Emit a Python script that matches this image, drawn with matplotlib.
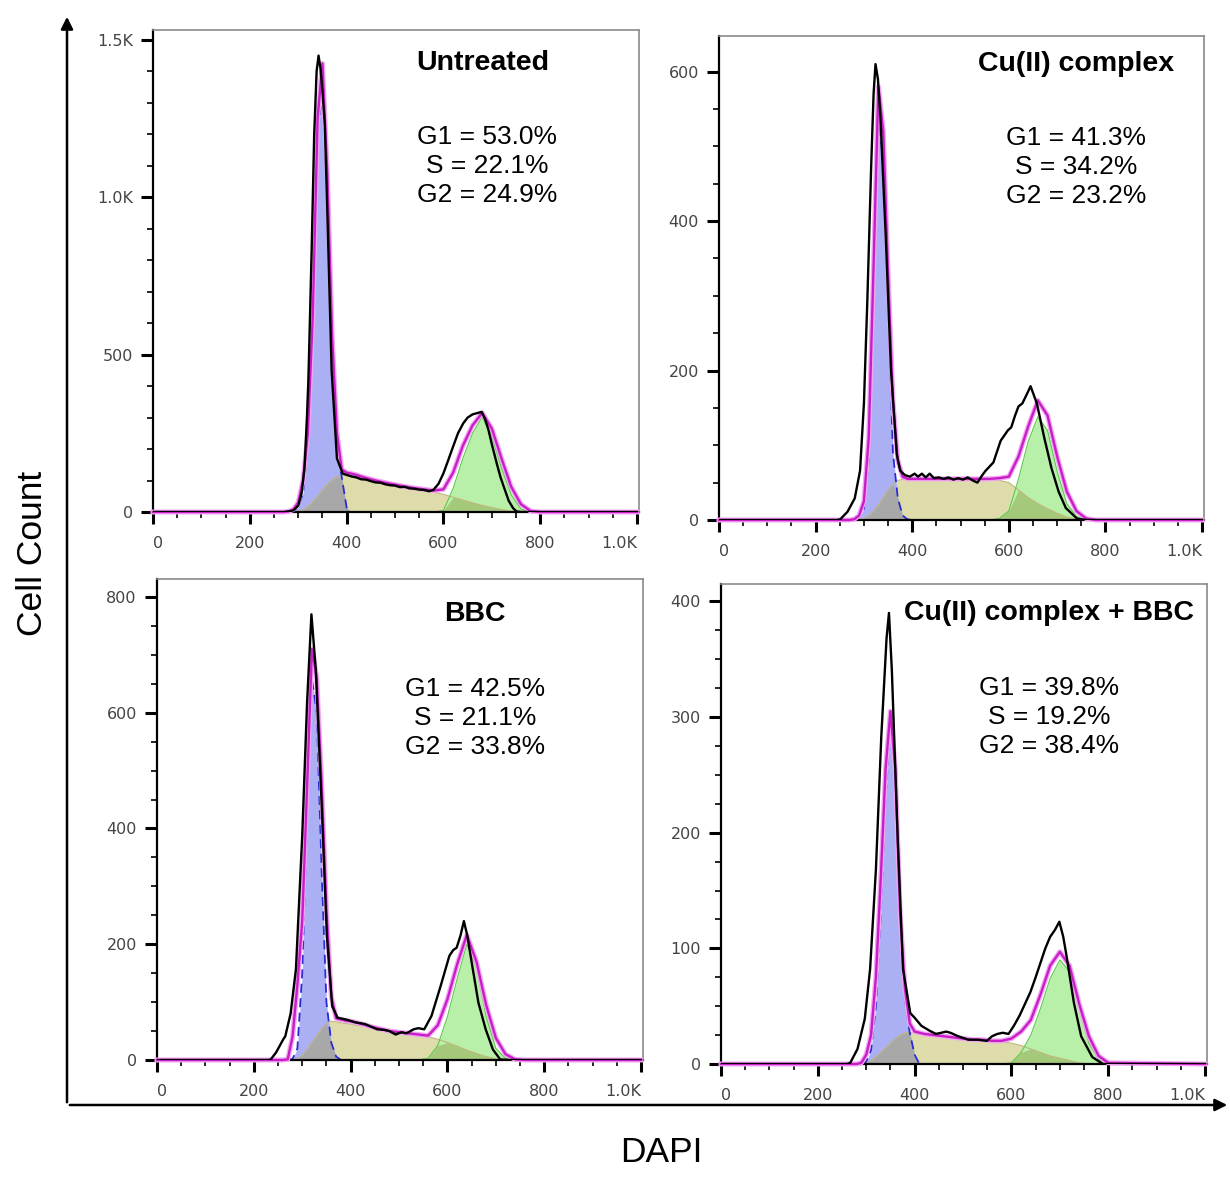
import numpy as np
import matplotlib.pyplot as plt
from matplotlib.ticker import MultipleLocator, FixedLocator
from matplotlib.patches import FancyArrowPatch

DAPI_GRID = [0, 240, 260, 270, 280, 290, 300, 310, 320, 330, 340, 350, 360, 370, 380,
             390, 400, 410, 420, 440, 460, 480, 500, 520, 540, 560, 580, 600, 620, 640,
             660, 680, 700, 720, 740, 760, 780, 800, 1000]

PANEL_TITLES = ["Untreated", "Cu(II) complex", "BBC", "Cu(II) complex + BBC"]
PANEL_STATS = [
    ["G1 = 53.0%", "S = 22.1%", "G2 = 24.9%"],
    ["G1 = 41.3%", "S = 34.2%", "G2 = 23.2%"],
    ["G1 = 42.5%", "S = 21.1%", "G2 = 33.8%"],
    ["G1 = 39.8%", "S = 19.2%", "G2 = 38.4%"],
]

# ---- Untreated ----
untreated_raw_x = [0, 270, 280, 290, 300, 307, 313, 318, 321, 324, 328, 333, 338, 342, 346, 350, 355,
                   360, 369, 380, 392, 400, 410, 420, 430, 440, 450, 460, 470, 480, 490, 500, 510,
                   520, 530, 540, 550, 560, 570, 579, 590, 600, 610, 620, 630, 641, 650, 660, 669,
                   679, 686, 693, 700, 710, 718, 727, 735, 744, 751, 760, 1000]
untreated_raw_y = [0, 0, 2, 5, 20, 60, 140, 300, 420, 600, 850, 1200, 1400, 1450, 1410, 1340, 1230,
                   960, 450, 170, 122, 118, 113, 110, 104, 103, 98, 94, 93, 88, 85, 84, 79,
                   80, 75, 74, 71, 70, 66, 70, 90, 123, 165, 208, 250, 282, 300, 310, 314,
                   318, 295, 261, 215, 155, 110, 70, 35, 12, 2, 0, 0]
untreated_fit = [0, 0, 0, 0, 2, 8, 30, 100, 250, 620, 1250, 1425, 1080, 560, 250, 135, 125, 122, 118,
                 108, 100, 93, 87, 81, 76, 72, 68, 72, 125, 210, 275, 315, 265, 170, 80, 25, 3, 0, 0]
untreated_g1 = [0, 0, 0, 0, 0, 3, 15, 60, 210, 560, 1180, 1360, 1000, 480, 200, 110, 14, 0, 0,
                0, 0, 0, 0, 0, 0, 0, 0, 0, 0, 0, 0, 0, 0, 0, 0, 0, 0, 0, 0]
untreated_s = [0, 0, 0, 0, 0, 0, 2, 8, 18, 32, 50, 70, 88, 102, 112, 118, 116, 113, 110,
               104, 98, 92, 85, 79, 73, 68, 63, 56, 47, 38, 29, 21, 14, 8, 3, 0, 0, 0, 0]
untreated_g2 = [0, 0, 0, 0, 0, 0, 0, 0, 0, 0, 0, 0, 0, 0, 0, 0, 0, 0, 0,
                0, 0, 0, 0, 0, 0, 0, 0, 5, 75, 170, 250, 302, 240, 140, 55, 10, 0, 0, 0]

# ---- Cu(II) complex ----
cu_raw_x = [0, 245, 251, 266, 281, 292, 300, 307, 315, 320, 324, 329, 334, 345, 356, 368, 375,
            385, 395, 405, 412, 420, 428, 436, 445, 455, 465, 475, 485, 495, 505, 515, 525, 535,
            545, 552, 568, 583, 598, 605, 613, 620, 628, 637, 645, 658, 673, 688, 703, 718, 741,
            760, 1000]
cu_raw_y = [0, 0, 1, 11, 29, 66, 156, 292, 473, 570, 610, 590, 541, 382, 201, 88, 66,
            60, 58, 62, 58, 62, 57, 62, 56, 57, 55, 57, 54, 56, 54, 57, 53, 50,
            60, 66, 77, 106, 120, 124, 140, 152, 156, 168, 179, 156, 111, 70, 38, 16, 2,
            0, 0]
cu_fit = [0, 0, 0, 0, 1, 6, 25, 110, 340, 580, 520, 330, 160, 80, 58, 55, 55, 55, 55,
          55, 55, 55, 55, 55, 55, 55, 56, 58, 85, 125, 160, 140, 85, 38, 12, 2, 0, 0, 0]
cu_g1 = [0, 0, 0, 0, 0, 3, 15, 80, 300, 540, 480, 300, 90, 30, 6, 1, 0, 0, 0,
         0, 0, 0, 0, 0, 0, 0, 0, 0, 0, 0, 0, 0, 0, 0, 0, 0, 0, 0, 0]
cu_s = [0, 0, 0, 0, 0, 0, 2, 6, 12, 20, 30, 40, 48, 53, 54, 54, 54, 54, 54,
        54, 54, 54, 54, 54, 54, 54, 53, 50, 40, 30, 22, 15, 9, 4, 1, 0, 0, 0, 0]
cu_g2 = [0, 0, 0, 0, 0, 0, 0, 0, 0, 0, 0, 0, 0, 0, 0, 0, 0, 0, 0,
         0, 0, 0, 0, 0, 0, 0, 2, 12, 55, 105, 138, 120, 65, 22, 5, 0, 0, 0, 0]

# ---- BBC ----
bbc_raw_x = [0, 230, 235, 246, 261, 265, 276, 287, 300, 310, 319, 328, 340, 351, 362, 373, 390,
             410, 430, 455, 470, 480, 493, 505, 515, 530, 540, 552, 567, 586, 604, 612, 619,
             627, 634, 641, 649, 664, 679, 694, 709, 730, 1000]
bbc_raw_y = [0, 0, 1, 13, 36, 41, 80, 157, 387, 617, 770, 675, 445, 214, 93, 73, 70,
             65, 62, 53, 52, 50, 44, 48, 46, 53, 55, 53, 76, 128, 180, 190, 194,
             215, 240, 215, 174, 99, 53, 18, 1, 0, 0]
bbc_fit = [0, 0, 0, 1, 40, 130, 240, 470, 710, 660, 480, 260, 110, 72, 70, 68, 67, 65, 63,
           58, 54, 50, 48, 46, 44, 42, 60, 105, 165, 216, 170, 95, 38, 10, 1, 0, 0, 0, 0]
bbc_g1 = [0, 0, 0, 0, 2, 20, 150, 420, 660, 600, 330, 100, 30, 6, 0, 0, 0, 0, 0,
          0, 0, 0, 0, 0, 0, 0, 0, 0, 0, 0, 0, 0, 0, 0, 0, 0, 0, 0, 0]
bbc_s = [0, 0, 0, 0, 0, 2, 8, 18, 30, 42, 54, 63, 67, 66, 64, 63, 62, 60, 59,
         56, 53, 50, 48, 46, 43, 40, 36, 30, 24, 17, 11, 6, 2, 0, 0, 0, 0, 0, 0]
bbc_g2 = [0, 0, 0, 0, 0, 0, 0, 0, 0, 0, 0, 0, 0, 0, 0, 0, 0, 0, 0,
          0, 0, 0, 0, 0, 0, 3, 25, 75, 140, 200, 160, 75, 20, 3, 0, 0, 0, 0, 0]

# ---- Cu(II) complex + BBC ----
combo_raw_x = [0, 260, 267, 282, 297, 308, 320, 331, 342, 347, 353, 365, 376, 391, 400, 414, 430,
               444, 455, 465, 474, 490, 511, 530, 549, 560, 571, 582, 594, 605, 617, 628, 639,
               650, 662, 670, 680, 690, 699, 707, 714, 729, 744, 767, 789, 1000]
combo_raw_y = [0, 0, 1, 13, 39, 82, 168, 282, 368, 390, 340, 196, 82, 44, 40, 33, 29,
               26, 27, 28, 27, 24, 21, 21, 20, 24, 26, 27, 26, 33, 42, 52, 62,
               75, 90, 100, 110, 116, 123, 110, 93, 53, 24, 6, 0, 0]
combo_fit = [0, 0, 0, 0, 0, 1, 8, 25, 75, 160, 255, 305, 255, 130, 65, 35, 28, 27, 26,
             25, 24, 23, 22, 21, 21, 20, 20, 22, 28, 38, 60, 85, 97, 85, 52, 24, 7, 1, 0]
combo_g1 = [0, 0, 0, 0, 0, 0, 2, 12, 50, 130, 230, 295, 240, 120, 55, 27, 8, 0, 0,
            0, 0, 0, 0, 0, 0, 0, 0, 0, 0, 0, 0, 0, 0, 0, 0, 0, 0, 0, 0]
combo_s = [0, 0, 0, 0, 0, 0, 1, 3, 6, 10, 14, 18, 22, 25, 27, 27, 27, 26, 26,
           25, 24, 23, 22, 21, 21, 20, 19, 18, 16, 13, 10, 7, 5, 3, 1, 0, 0, 0, 0]
combo_g2 = [0, 0, 0, 0, 0, 0, 0, 0, 0, 0, 0, 0, 0, 0, 0, 0, 0, 0, 0,
            0, 0, 0, 0, 0, 0, 0, 0, 1, 10, 25, 48, 74, 90, 80, 48, 18, 4, 0, 0]

# y axis ticks per panel
Y_MAJOR = [[0, 500, 1000, 1500], [0, 200, 400, 600], [0, 200, 400, 600, 800], [0, 100, 200, 300, 400]]
Y_LABELS = [["0", "500", "1.0K", "1.5K"], ["0", "200", "400", "600"],
            ["0", "200", "400", "600", "800"], ["0", "100", "200", "300", "400"]]
Y_MINOR = [100, 50, 50, 25]
Y_TOP = [1533, 648, 831, 415]
X_MAJOR = [0, 200, 400, 600, 800, 1000]
X_LABELS = ["0", "200", "400", "600", "800", "1.0K"]

RAW = [(untreated_raw_x, untreated_raw_y), (cu_raw_x, cu_raw_y),
       (bbc_raw_x, bbc_raw_y), (combo_raw_x, combo_raw_y)]
FITS = [untreated_fit, cu_fit, bbc_fit, combo_fit]
G1S = [untreated_g1, cu_g1, bbc_g1, combo_g1]
SS = [untreated_s, cu_s, bbc_s, combo_s]
G2S = [untreated_g2, cu_g2, bbc_g2, combo_g2]

# layout (pixels: left, top, right, bottom) and text placement in axes fractions
W, H = 1230, 1194
BOXES = [(153, 29.5, 639, 512), (719, 35.7, 1204, 520), (157, 579, 643, 1060), (721, 584, 1207, 1064)]
TITLE_POS = [(0.679, 0.931), (0.736, 0.941), (0.654, 0.927), (0.675, 0.940)]
STATS_POS = [(0.687, 0.717), (0.736, 0.729), (0.654, 0.711), (0.675, 0.723)]

SANS = ["Liberation Sans", "DejaVu Sans"]


def visible(y):
    y = np.asarray(y, dtype=float)
    nz = y > 0
    keep = nz | np.roll(nz, 1) | np.roll(nz, -1)
    return np.ma.masked_where(~keep, y)


fig = plt.figure(figsize=(W / 100, H / 100), dpi=100)
x = np.array(DAPI_GRID, dtype=float)

for i in range(4):
    l, t, r, b = BOXES[i]
    ax = fig.add_axes([l / W, 1 - b / H, (r - l) / W, (b - t) / H])
    g1 = np.array(G1S[i], float)
    s = np.array(SS[i], float)
    g2 = np.array(G2S[i], float)

    ax.fill_between(x, 0, s, color="#dfdcab", lw=0, zorder=1)
    ax.fill_between(x, 0, g1, color="#aab0f3", lw=0, zorder=1.1)
    ax.fill_between(x, 0, g2, color="#b9f0a9", lw=0, zorder=1.1)
    ax.fill_between(x, 0, np.minimum(g1, s), color="#a8a8a8", lw=0, zorder=1.2)
    ax.fill_between(x, 0, np.minimum(s, g2), color="#a5c97b", lw=0, zorder=1.2)

    ax.plot(x, visible(s), color="#bdb57a", lw=0.8, zorder=2)
    ax.plot(x, visible(g2), color="#5cc94c", lw=0.8, zorder=2)
    ax.plot(x, visible(g1), color="#2b2bd6", lw=1.3, ls=(0, (5, 3)), zorder=2.1)

    ax.plot(x, FITS[i], color="#f2a6f2", lw=3.6, zorder=3, clip_on=False, solid_joinstyle="round")
    ax.plot(x, FITS[i], color="#c81ec8", lw=1.7, zorder=3.1, clip_on=False, solid_joinstyle="round")
    rx, ry = RAW[i]
    ax.plot(rx, ry, color="black", lw=1.7, zorder=4, solid_joinstyle="round")

    ax.set_xlim(0, 1004)
    ax.set_ylim(0, Y_TOP[i])

    ax.xaxis.set_major_locator(FixedLocator(X_MAJOR))
    ax.set_xticklabels(X_LABELS)
    ax.xaxis.set_minor_locator(MultipleLocator(50))
    ax.yaxis.set_major_locator(FixedLocator(Y_MAJOR[i]))
    ax.set_yticklabels(Y_LABELS[i])
    ax.yaxis.set_minor_locator(MultipleLocator(Y_MINOR[i]))
    ax.tick_params(which="major", length=8.5, width=2.2, color="black",
                   labelsize=11.5, labelcolor="#444444", pad=6)
    ax.tick_params(axis="x", which="major", pad=8.5)
    ax.tick_params(which="minor", length=4.5, width=1.2, color="black")
    labels = ax.get_xticklabels()
    labels[0].set_ha("left")
    labels[-1].set_ha("right")

    for side in ("top", "right"):
        ax.spines[side].set_color("#8a8a8a")
        ax.spines[side].set_linewidth(1.2)
    for side in ("left", "bottom"):
        ax.spines[side].set_color("black")
        ax.spines[side].set_linewidth(1.6)

    tx, ty = TITLE_POS[i]
    ax.text(tx, ty, PANEL_TITLES[i], transform=ax.transAxes, ha="center", va="center",
            fontsize=20.5, fontweight="bold", family=SANS, zorder=5)
    sx, sy = STATS_POS[i]
    ax.text(sx, sy, "\n".join(PANEL_STATS[i]), transform=ax.transAxes, ha="center", va="center",
            fontsize=19, family=SANS, linespacing=1.25, zorder=5)

# outer axis arrows
x0, y0 = 67 / W, 1 - 1105 / H
fig.add_artist(FancyArrowPatch((x0, y0), (x0, 1 - 14 / H), transform=fig.transFigure,
                               arrowstyle="-|>", mutation_scale=18, lw=1.8, color="black"))
fig.add_artist(FancyArrowPatch((x0, y0), (1.0, y0), transform=fig.transFigure,
                               arrowstyle="-|>", mutation_scale=18, lw=1.8, color="black"))

fig.text(32 / W, 1 - 553 / H, "Cell Count", rotation=90, ha="center", va="center",
         fontsize=25.5, family=SANS)
fig.text(661 / W, 1 - 1152 / H, "DAPI", ha="center", va="center", fontsize=25.5, family=SANS)

fig.savefig("out.png", dpi=100)
